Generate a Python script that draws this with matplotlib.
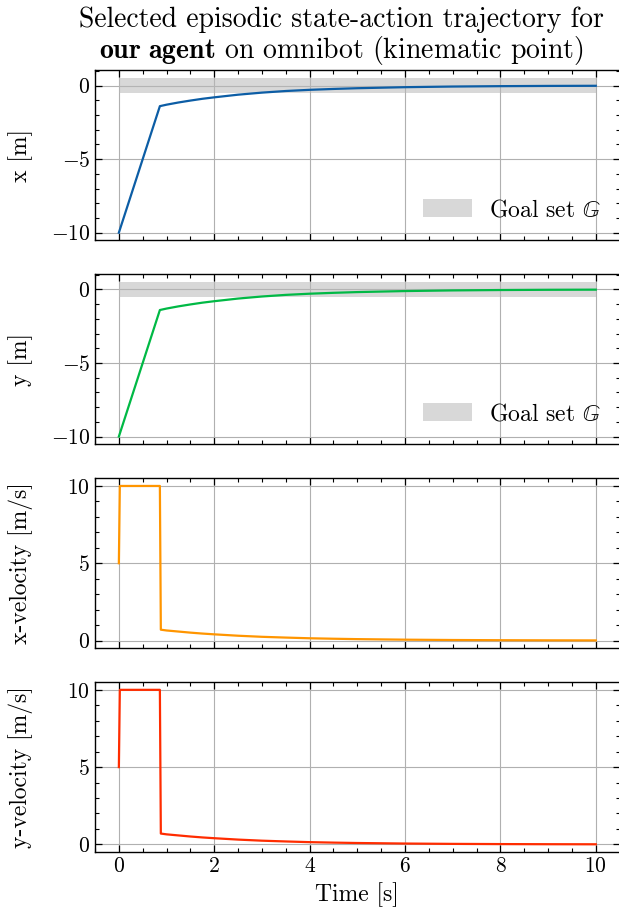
import matplotlib
matplotlib.use("Agg")
import matplotlib.pyplot as plt
from matplotlib.ticker import MultipleLocator

plt.rcParams.update({
    "font.family": "serif",
    "font.serif": ["cmr10"],
    "mathtext.fontset": "cm",
    "axes.formatter.use_mathtext": True,
    "font.size": 15.5,
    "axes.labelsize": 17,
    "legend.fontsize": 17,
    "axes.linewidth": 1.0,
    "xtick.direction": "in",
    "ytick.direction": "in",
    "xtick.top": True,
    "ytick.right": True,
    "xtick.major.size": 5,
    "ytick.major.size": 5,
    "xtick.minor.size": 2.8,
    "ytick.minor.size": 2.8,
    "xtick.major.width": 0.9,
    "ytick.major.width": 0.9,
    "xtick.minor.width": 0.8,
    "ytick.minor.width": 0.8,
    "xtick.minor.visible": True,
    "ytick.minor.visible": True,
})

# Position trajectory (time in s, position in m)
t_pos = [0.0, 0.86, 1.0, 1.25, 1.5, 1.75, 2.0, 2.5, 3.0, 3.5, 4.0, 4.5, 5.0,
         6.0, 7.0, 8.0, 9.0, 10.0]
x_pos = [-10.0, -1.40, -1.30, -1.15, -1.02, -0.90, -0.80, -0.62, -0.48, -0.37,
         -0.29, -0.23, -0.18, -0.11, -0.066, -0.040, -0.024, -0.015]
y_pos = [-10.0, -1.40, -1.30, -1.15, -1.02, -0.90, -0.80, -0.62, -0.48, -0.37,
         -0.29, -0.23, -0.18, -0.11, -0.066, -0.040, -0.024, -0.015]

# Velocity commands (time in s, velocity in m/s)
t_vel = [0.0, 0.02, 0.86, 0.88, 1.0, 1.25, 1.5, 1.75, 2.0, 2.5, 3.0, 3.5, 4.0,
         4.5, 5.0, 6.0, 7.0, 8.0, 9.0, 10.0]
vx = [5.0, 10.0, 10.0, 0.70, 0.65, 0.58, 0.51, 0.45, 0.40, 0.31, 0.24, 0.19,
      0.145, 0.115, 0.09, 0.055, 0.033, 0.020, 0.012, 0.007]
vy = [5.0, 10.0, 10.0, 0.70, 0.65, 0.58, 0.51, 0.45, 0.40, 0.31, 0.24, 0.19,
      0.145, 0.115, 0.09, 0.055, 0.033, 0.020, 0.012, 0.007]

# Goal set bounds
goal_t = [0.0, 10.0]
goal_lo = [-0.5, -0.5]
goal_hi = [0.5, 0.5]

colors = ["#0C5DA5", "#00B945", "#FF9500", "#FF2C00"]
ylabels = ["x [m]", "y [m]", "x-velocity [m/s]", "y-velocity [m/s]"]

fig, axes = plt.subplots(4, 1, figsize=(6.19, 9.19), dpi=100, sharex=True)
fig.subplots_adjust(left=0.1535, right=1.001, top=0.9233, bottom=0.0729,
                    hspace=0.2)

series = [(t_pos, x_pos), (t_pos, y_pos), (t_vel, vx), (t_vel, vy)]
for i, (ax, (t, v)) in enumerate(zip(axes, series)):
    ax.grid(True, color="#b0b0b0", linewidth=0.8)
    ax.set_axisbelow(True)
    if i < 2:
        ax.fill_between(goal_t, goal_lo, goal_hi, color="#b8b8b8", alpha=0.55,
                        linewidth=0, label=r"Goal set $\mathbb{G}$")
    ax.plot(t, v, color=colors[i], linewidth=1.6)
    ax.set_ylabel(ylabels[i])
    ax.xaxis.set_major_locator(MultipleLocator(2))
    ax.xaxis.set_minor_locator(MultipleLocator(0.5))
    ax.yaxis.set_major_locator(MultipleLocator(5))
    ax.yaxis.set_minor_locator(MultipleLocator(1))
    if i < 2:
        ax.legend(loc="lower right", frameon=False, handlelength=2.1,
                  handleheight=0.8, handletextpad=0.7, borderaxespad=0.5,
                  borderpad=0.3)

for ax in axes:
    ax.yaxis.set_label_coords(-0.118, 0.5)

axes[-1].set_xlabel("Time [s]")
axes[0].set_title("Selected episodic state-action trajectory for\n"
                  r"$\mathbf{our\ agent}$ on omnibot (kinematic point)",
                  fontsize=20, pad=9, linespacing=1.05, x=0.469)

fig.savefig("out.png", dpi=100)
